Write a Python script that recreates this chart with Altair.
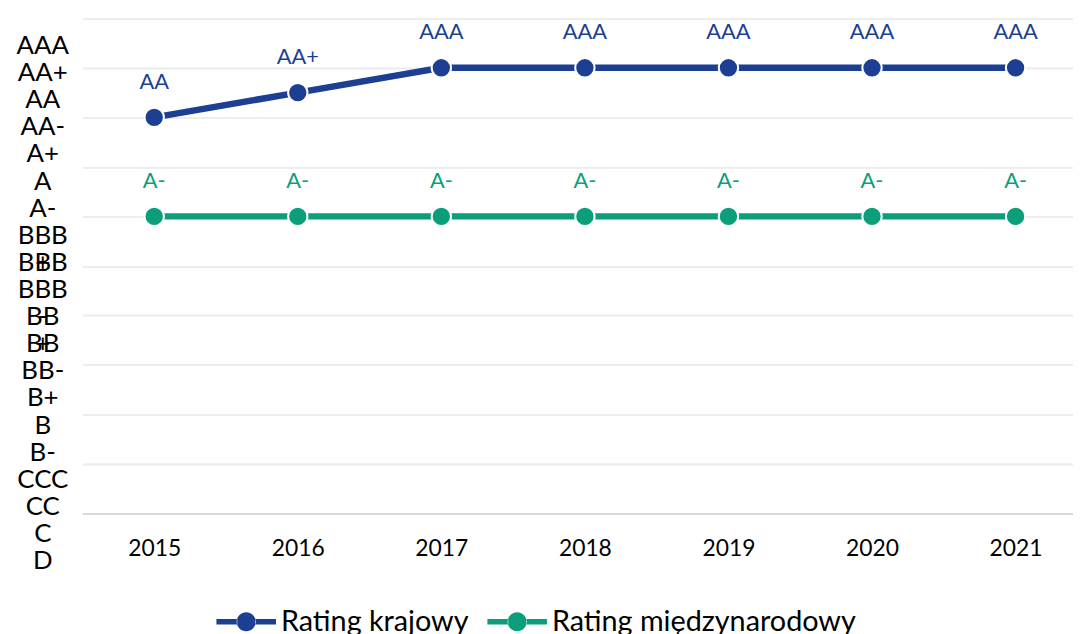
import altair as alt
import pandas as pd

# ---- data ----
years = [2015, 2016, 2017, 2018, 2019, 2020, 2021]
series_names = ["Rating krajowy", "Rating międzynarodowy"]
krajowy_values = [8, 8.5, 9, 9, 9, 9, 9]
krajowy_labels = ["AA", "AA+", "AAA", "AAA", "AAA", "AAA", "AAA"]
miedzy_values = [6, 6, 6, 6, 6, 6, 6]
miedzy_labels = ["A-", "A-", "A-", "A-", "A-", "A-", "A-"]
rating_scale_labels = ["AAA", "AA+", "AA", "AA-", "A+", "A", "A-", "BBB\n+", "BBB",
                       "BBB\n-", "BB\n+", "BB", "BB-", "B+", "B", "B-", "CCC", "CC", "C", "D"]
y_ticks = [0, 1, 2, 3, 4, 5, 6, 7, 8, 9, 10]

colors = ["#1C3F94", "#0A9E7B"]

rows = []
for name, vals, labs in [(series_names[0], krajowy_values, krajowy_labels),
                         (series_names[1], miedzy_values, miedzy_labels)]:
    for yr, v, l in zip(years, vals, labs):
        rows.append({"year": yr, "value": v, "label": l, "series": name})
df = pd.DataFrame(rows)
df_axis = pd.DataFrame({"rating": rating_scale_labels})

FONT = "Lato"

x_enc = alt.X("year:Q",
              scale=alt.Scale(domain=[2014.5, 2021.4], nice=False, zero=False),
              axis=alt.Axis(values=years, format="d", title=None, grid=False,
                            ticks=False, tickSize=0, labelPadding=24,
                            labelFont=FONT, labelFontSize=23, labelColor="#000000",
                            domainColor="#D9D9D9", domainWidth=2))
y_enc = alt.Y("value:Q",
              scale=alt.Scale(domain=[0, 10], nice=False, zero=True),
              axis=alt.Axis(values=y_ticks, title=None, labels=False, ticks=False,
                            domain=False, grid=True, gridColor="#EDEDED", gridWidth=1.5))

legend_path = ("M-1,-0.09 L-0.3,-0.09 L-0.3,0.09 L-1,0.09 Z "
               "M0.3,-0.09 L1,-0.09 L1,0.09 L0.3,0.09 Z "
               "M-0.32,0 A0.32,0.32 0 1,0 0.32,0 A0.32,0.32 0 1,0 -0.32,0 Z")

series_scale = alt.Scale(domain=series_names, range=colors)

base = alt.Chart(df)

line_layers = []
label_layers = []
for name, col in zip(series_names, colors):
    sub = base.transform_filter(alt.datum.series == name)
    line_layers.append(sub.mark_line(color=col, strokeWidth=6.5).encode(x=x_enc, y=y_enc))
    label_layers.append(sub.mark_text(font=FONT, fontSize=22, dy=-36, baseline="middle",
                                      color=col).encode(x=x_enc, y=y_enc, text="label:N"))

points = base.mark_point(size=380, opacity=1, filled=True, shape="circle",
                         stroke="white", strokeWidth=2).encode(
    x=x_enc, y=y_enc,
    fill=alt.Fill("series:N", scale=series_scale,
                  legend=alt.Legend(title=None, orient="none", direction="horizontal",
                                    legendX=135, legendY=578, padding=0,
                                    symbolType=legend_path, symbolSize=3600,
                                    symbolStrokeWidth=0, symbolOpacity=1,
                                    labelFont=FONT, labelFontSize=29,
                                    labelColor="#000000", labelOffset=5,
                                    columnPadding=18, labelLimit=600)))

axis_labels = alt.Chart(df_axis).mark_text(
    font=FONT, fontSize=26, color="#000000", align="center",
    baseline="alphabetic", dy=9, lineBreak="\n", lineHeight=27
).encode(
    x=alt.value(-40),
    y=alt.Y("rating:O", sort=None,
            scale=alt.Scale(domain=rating_scale_labels, range=[27, 546], padding=0),
            axis=None),
    text="rating:N",
)

chart = alt.layer(*line_layers, points, *label_layers, axis_labels).resolve_scale(
    y="independent"
).properties(
    width=998, height=499,
    padding={"left": 75, "top": 8, "right": 0, "bottom": 119},
    autosize=alt.AutoSizeParams(type="none"),
).configure_view(stroke=None)

chart.save("out.html", embed_options={"renderer": "svg", "actions": False})
